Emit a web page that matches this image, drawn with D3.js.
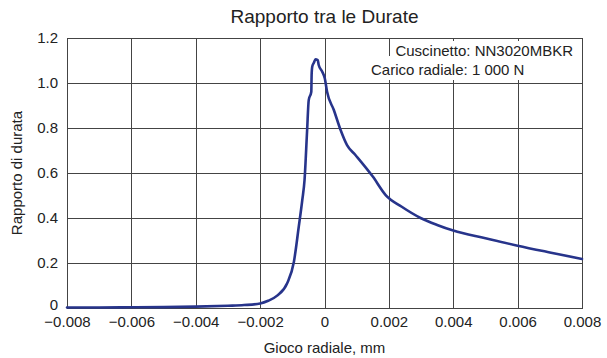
<!DOCTYPE html>
<html>
<head>
<meta charset="utf-8">
<script src="https://cdn.jsdelivr.net/npm/d3@7"></script>
<style>
  html, body { margin: 0; padding: 0; background: #fff; }
  text { font-family: "Liberation Sans", Arial, Helvetica, sans-serif; fill: #222; }
</style>
</head>
<body>
<svg id="chart" width="607" height="358"></svg>
<script>
// ---- data ----
const clearance = [-0.008, -0.007, -0.006, -0.005, -0.004, -0.003, -0.0025, -0.002, -0.00175, -0.00147,
  -0.00116, -0.00095, -0.0008, -0.00069, -0.00062, -0.00054, -0.00049, -0.00041, -0.0004, -0.00038,
  -0.00033, -0.00028, -0.00021, -0.00018, -0.00007, 0.00001, 0.00008, 0.00029, 0.0005, 0.0007,
  0.00096, 0.0015, 0.0019, 0.0024, 0.003, 0.0035, 0.004, 0.005, 0.006, 0.007, 0.008];
const lifeRatio = [0.002, 0.002, 0.003, 0.004, 0.006, 0.010, 0.013, 0.020, 0.032, 0.055,
  0.110, 0.206, 0.361, 0.480, 0.569, 0.790, 0.924, 0.961, 1.036, 1.073,
  1.090, 1.105, 1.102, 1.080, 1.050, 1.020, 0.961, 0.880, 0.791, 0.724,
  0.680, 0.584, 0.502, 0.450, 0.399, 0.369, 0.344, 0.310, 0.277, 0.247, 0.218];
const xTickValues = [-0.008, -0.006, -0.004, -0.002, 0, 0.002, 0.004, 0.006, 0.008];
const xTickLabels = ["\u22120.008", "\u22120.006", "\u22120.004", "\u22120.002", "0", "0.002", "0.004", "0.006", "0.008"];
const yTickValues = [0, 0.2, 0.4, 0.6, 0.8, 1.0, 1.2];
const yTickLabels = ["0", "0.2", "0.4", "0.6", "0.8", "1.0", "1.2"];
const titleText = "Rapporto tra le Durate";
const xLabel = "Gioco radiale, mm";
const yLabel = "Rapporto di durata";
const noteLines = ["Cuscinetto: NN3020MBKR", "Carico radiale: 1 000 N"];

// ---- layout ----
const svg = d3.select("#chart");
const m = { left: 67, right: 582, top: 38, bottom: 308 };
const x = d3.scaleLinear().domain([-0.008, 0.008]).range([m.left, m.right]);
const y = d3.scaleLinear().domain([0, 1.2]).range([m.bottom, m.top]);
const gridColor = "#444";

// grid
const grid = svg.append("g");
grid.selectAll("line.v").data(xTickValues).enter().append("line")
  .attr("x1", d => Math.round(x(d)) + 0.5).attr("x2", d => Math.round(x(d)) + 0.5)
  .attr("y1", m.top).attr("y2", m.bottom)
  .attr("stroke", gridColor).attr("stroke-width", 1);
grid.selectAll("line.h").data(yTickValues).enter().append("line")
  .attr("y1", d => Math.round(y(d)) + 0.5).attr("y2", d => Math.round(y(d)) + 0.5)
  .attr("x1", m.left).attr("x2", m.right + 1)
  .attr("stroke", gridColor).attr("stroke-width", 1);

// note boxes (mask grid)
svg.append("rect").attr("x", 392).attr("y", 41).attr("width", m.right - 392).attr("height", 15).attr("fill", "#fff");
svg.append("rect").attr("x", 368).attr("y", 56).attr("width", m.right - 368).attr("height", 24).attr("fill", "#fff");
svg.append("text").attr("x", 573).attr("y", 56).attr("text-anchor", "end")
  .style("font-size", "15px").text(noteLines[0]);
svg.append("text").attr("x", 371).attr("y", 75).attr("text-anchor", "start")
  .style("font-size", "15px").text(noteLines[1]);

// axes labels
const xAxis = d3.axisBottom(x).tickValues(xTickValues).tickSize(0).tickPadding(8)
  .tickFormat((d, i) => xTickLabels[i]);
const gx = svg.append("g").attr("transform", `translate(0,${m.bottom})`).call(xAxis);
gx.select(".domain").remove();
gx.selectAll("text").style("font-size", "15px").style("font-family", "Liberation Sans, Arial, sans-serif").attr("fill", "#222");

const yAxis = d3.axisLeft(y).tickValues(yTickValues).tickSize(0).tickPadding(9)
  .tickFormat((d, i) => yTickLabels[i]);
const gy = svg.append("g").attr("transform", `translate(${m.left},0)`).call(yAxis);
gy.select(".domain").remove();
gy.selectAll("text").style("font-size", "15px").style("font-family", "Liberation Sans, Arial, sans-serif").attr("fill", "#222")
  .attr("dy", (d) => d === 0 ? "0.1em" : "0.32em");

// curve
const line = d3.line().x((d, i) => x(clearance[i])).y(d => y(d)).curve(d3.curveMonotoneX);
svg.append("path").datum(lifeRatio).attr("d", line)
  .attr("fill", "none").attr("stroke", "#27348b").attr("stroke-width", 2.6)
  .attr("stroke-linejoin", "round").attr("stroke-linecap", "round");

// title & labels
svg.append("text").attr("x", (m.left + m.right) / 2).attr("y", 23).attr("text-anchor", "middle")
  .style("font-size", "19px").text(titleText);
svg.append("text").attr("x", (m.left + m.right) / 2).attr("y", 353).attr("text-anchor", "middle")
  .style("font-size", "15px").text(xLabel);
svg.append("text").attr("transform", `translate(22,${(m.top + m.bottom) / 2}) rotate(-90)`)
  .attr("text-anchor", "middle").style("font-size", "15px").text(yLabel);
</script>
</body>
</html>
